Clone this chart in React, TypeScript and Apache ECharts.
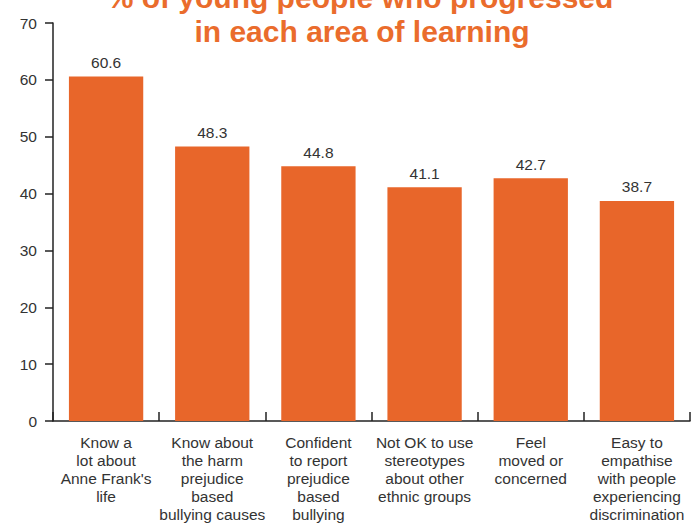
import React, { useEffect, useRef } from "react";
import * as echarts from "echarts";

const titleLines = ["% of young people who progressed", "in each area of learning"];
const categories = [
  "Know a\nlot about\nAnne Frank's\nlife",
  "Know about\nthe harm\nprejudice\nbased\nbullying causes",
  "Confident\nto report\nprejudice\nbased\nbullying",
  "Not OK to use\nstereotypes\nabout other\nethnic groups",
  "Feel\nmoved or\nconcerned",
  "Easy to\nempathise\nwith people\nexperiencing\ndiscrimination",
];
const values = [60.6, 48.3, 44.8, 41.1, 42.7, 38.7];
const yMin = 0;
const yMax = 70;
const yStep = 10;

const ORANGE = "#E8662A";
const FONT = "'Liberation Sans', Arial, sans-serif";

export default function App() {
  const ref = useRef<HTMLDivElement>(null);
  useEffect(() => {
    if (!ref.current) return;
    const chart = echarts.init(ref.current, undefined, { renderer: "svg" });
    chart.setOption({
      animation: false,
      backgroundColor: "#ffffff",
      textStyle: { fontFamily: FONT },
      graphic: [
        {
          type: "text",
          x: 360,
          y: -3,
          style: {
            text: titleLines[0],
            fill: "#EA6C2C",
            font: `bold 30px ${FONT}`,
            textAlign: "center",
            textVerticalAlign: "middle",
          },
        },
        {
          type: "text",
          x: 362,
          y: 31,
          style: {
            text: titleLines[1],
            fill: "#EA6C2C",
            font: `bold 30px ${FONT}`,
            textAlign: "center",
            textVerticalAlign: "middle",
          },
        },
      ],
      grid: { left: 53, right: 10, top: 23, bottom: 99 },
      xAxis: {
        type: "category",
        data: categories,
        axisLine: { show: true, lineStyle: { color: "#222", width: 1.5 } },
        axisTick: { show: true, inside: true, length: 9, lineStyle: { color: "#222", width: 1.5 } },
        axisLabel: {
          interval: 0,
          margin: 12,
          fontSize: 15.5,
          lineHeight: 18,
          color: "#333",
          fontFamily: FONT,
          align: "center",
        },
      },
      yAxis: {
        type: "value",
        min: yMin,
        max: yMax,
        interval: yStep,
        axisLine: { show: true, lineStyle: { color: "#222", width: 1.5 } },
        axisTick: { show: true, length: 8, lineStyle: { color: "#222", width: 1.5 } },
        splitLine: { show: false },
        axisLabel: { margin: 16, fontSize: 15.5, color: "#333", fontFamily: FONT },
      },
      series: [
        {
          type: "bar",
          data: values,
          barWidth: "70%",
          itemStyle: { color: ORANGE },
          label: {
            show: true,
            position: "top",
            distance: 6,
            fontSize: 15.5,
            color: "#333",
            fontFamily: FONT,
            formatter: (p: any) => p.value.toFixed(1),
          },
        },
      ],
    });
    return () => chart.dispose();
  }, []);
  return (
    <div
      ref={ref}
      style={{ position: "fixed", left: 0, top: 0, width: 700, height: 523, background: "#fff" }}
    />
  );
}
